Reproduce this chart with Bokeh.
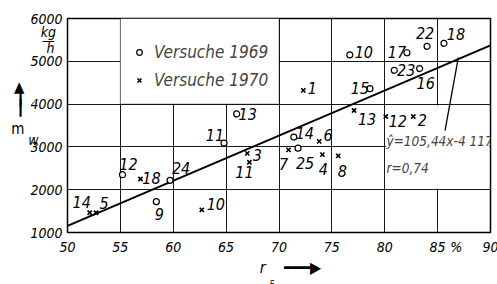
from bokeh.plotting import figure
from bokeh.models import (ColumnDataSource, BoxAnnotation, Label, LinearAxis,
                          Legend, LegendItem, FixedTicker)
from bokeh.core.properties import value
from bokeh.embed import file_html
from bokeh.resources import INLINE

FONT = "Liberation Sans Narrow, DejaVu Sans Condensed, Liberation Sans, sans-serif"
NB = "\u00a0"
THIN = "\u2009"

# --- data -------------------------------------------------------------
x_ticks = [50, 55, 60, 65, 70, 75, 80, 85, 90]
y_ticks = [1000, 2000, 3000, 4000, 5000, 6000]

# Versuche 1969 (circles)
c_x = [55.2, 58.4, 59.7, 64.8, 66.0, 71.4, 71.8, 76.7, 78.6, 82.1, 80.9, 84.0, 85.6, 83.3]
c_y = [2350, 1720, 2220, 3090, 3770, 3230, 2970, 5150, 4360, 5200, 4790, 5350, 5420, 4830]
c_lab = ["12", "9", "24", "11", "13", "14", "25", "10", "15", "17", "23", "22", "18", "16"]

# Versuche 1970 (crosses)
k_x = [52.1, 52.7, 56.9, 62.7, 67.0, 67.2, 70.9, 73.8, 74.1, 75.6, 77.1, 80.1, 82.7, 72.3]
k_y = [1460, 1460, 2250, 1530, 2850, 2640, 2930, 3130, 2820, 2790, 3850, 3710, 3710, 4320]
k_lab = ["14", "5", "18", "10", "3", "11", "7", "6", "4", "8", "13", "12", "2", "1"]

# regression  y = 105.44 x - 4117
slope = 105.44
intercept = -4117.0
reg_x = [50, 90]

# leader line from the formula to the regression line
leader_x = [85.7, 86.96]
leader_y = [3380, 5090]

# --- label placement (pixels) ------------------------------------------
c_dx = [6, 3, 11, -9, 11, 11, 7, 14, -10, -10, 12, -2, 12, 6]
c_dy = [-11, 12, -12, -8, 0, -4, 15, -3, -1, -1, 0, -13, -9, 14]
k_dx = [-8, 8, 11, 14, 10, -5, -5, 9, 1, 4, 13, 12, 9, 9]
k_dy = [-11, -10, -1, -6, 2, 10, 14, -6, 14, 15, 8, 4, 3, -2]

p = figure(frame_width=423, frame_height=214, x_range=(50, 90), y_range=(1000, 6000),
           output_backend="svg", toolbar_location=None,
           min_border_left=67, min_border_right=7, min_border_top=18, min_border_bottom=51)
p.background_fill_color = "white"
p.outline_line_color = "black"
p.outline_line_width = 1.5


def style_axis(ax, size="14px", italic=True):
    ax.axis_line_color = None
    ax.major_tick_line_color = None
    ax.minor_tick_line_color = None
    ax.major_tick_out = 0
    ax.major_tick_in = 0
    ax.minor_tick_out = 0
    ax.minor_tick_in = 0
    ax.major_label_text_font = FONT
    ax.major_label_text_font_style = "italic" if italic else "normal"
    ax.major_label_text_font_size = size
    ax.major_label_text_color = "black"
    ax.axis_label_text_font = FONT
    ax.axis_label_text_font_style = "italic"
    ax.axis_label_text_color = "black"


# x axis: tick labels, "%" unit, and the axis title r_E with arrow
xa = p.xaxis[0]
style_axis(xa)
xa.ticker = FixedTicker(ticks=x_ticks + [86.75])
xa.major_label_overrides = {86.75: "%"}
xa.major_label_standoff = 6
xa.axis_label = NB * 5 + "r" + NB * 4 + "━━━▶"
xa.axis_label_text_font_size = "16px"
xa.axis_label_standoff = 0

xa2 = LinearAxis(ticker=FixedTicker(ticks=[]))
style_axis(xa2)
xa2.axis_label = "E" + NB * 6
xa2.axis_label_text_font_size = "8px"
xa2.axis_label_standoff = 0
p.add_layout(xa2, "below")

# y axis: tick labels, unit kg/h and the subscript w
ya = p.yaxis[0]
style_axis(ya)
ya.ticker = FixedTicker(ticks=y_ticks + [5680, 5490, 5320, 3160])
ya.major_label_overrides = {5680: "kg" + NB + THIN, 5490: "—" + NB * 2, 5320: "h" + NB * 2,
                            3160: "w" + NB * 6}
ya.major_label_standoff = 5

# outer y axis carrying the arrow and the symbol m
ya2 = LinearAxis(ticker=FixedTicker(ticks=[4410, 4150, 3900, 3410]))
style_axis(ya2, size="15px", italic=False)
ya2.major_label_overrides = {4410: "▲", 4150: "┃", 3900: "┃", 3410: "m"}
ya2.major_label_standoff = 1
p.add_layout(ya2, "left")

p.xgrid.ticker = FixedTicker(ticks=x_ticks)
p.ygrid.ticker = FixedTicker(ticks=y_ticks)
for g in (p.xgrid, p.ygrid):
    g.grid_line_color = "black"
    g.grid_line_width = 1
    g.grid_line_alpha = 0.9

# white boxes hiding grid parts (legend box, formula area)
p.add_layout(BoxAnnotation(left=55, right=70, bottom=4000, top=6000, fill_color="white",
                           fill_alpha=1, line_color="black", line_width=1.2, level="underlay"))
p.add_layout(BoxAnnotation(left=80.12, right=89.88, bottom=2030, top=3970, fill_color="white",
                           fill_alpha=1, line_alpha=0, level="underlay"))

# regression line and leader
p.line(reg_x, [slope * v + intercept for v in reg_x], line_color="black", line_width=2)
p.line(leader_x, leader_y, line_color="black", line_width=1.3)

src_c = ColumnDataSource(dict(x=c_x, y=c_y, t=c_lab, dx=c_dx, dy=c_dy))
src_k = ColumnDataSource(dict(x=k_x, y=k_y, t=k_lab, dx=k_dx, dy=k_dy))

r_c = p.scatter("x", "y", source=src_c, marker="circle", size=6, fill_color="white",
                line_color="black", line_width=1.2)
r_k = p.scatter("x", "y", source=src_k, marker="x", size=6, line_color="black", line_width=1.6)

for s in (src_c, src_k):
    p.text("x", "y", text="t", x_offset="dx", y_offset="dy", source=s,
           text_align="center", text_baseline="middle", text_font=value(FONT),
           text_font_style="italic", text_font_size="16px", text_color="black")

# formula (screen pixels from frame bottom-left, inside the frame)
for ty, txt in ((92, "ŷ=105,44x-4 117"), (65, "r=0,74")):
    p.add_layout(Label(x=319, y=ty, x_units="screen", y_units="screen", text=txt,
                       text_font=FONT, text_font_style="italic", text_font_size="13.5px",
                       text_align="left", text_baseline="middle"))

legend = Legend(items=[LegendItem(label="Versuche 1969", renderers=[r_c]),
                       LegendItem(label="Versuche 1970", renderers=[r_k])],
                location=(65, 142), padding=0, margin=0, spacing=8,
                glyph_width=14, glyph_height=14, label_height=14, label_standoff=8,
                background_fill_alpha=0, border_line_alpha=0,
                label_text_font=FONT, label_text_font_style="italic",
                label_text_font_size="17px")
p.add_layout(legend, "center")

open("out.html", "w").write(file_html(p, INLINE))
